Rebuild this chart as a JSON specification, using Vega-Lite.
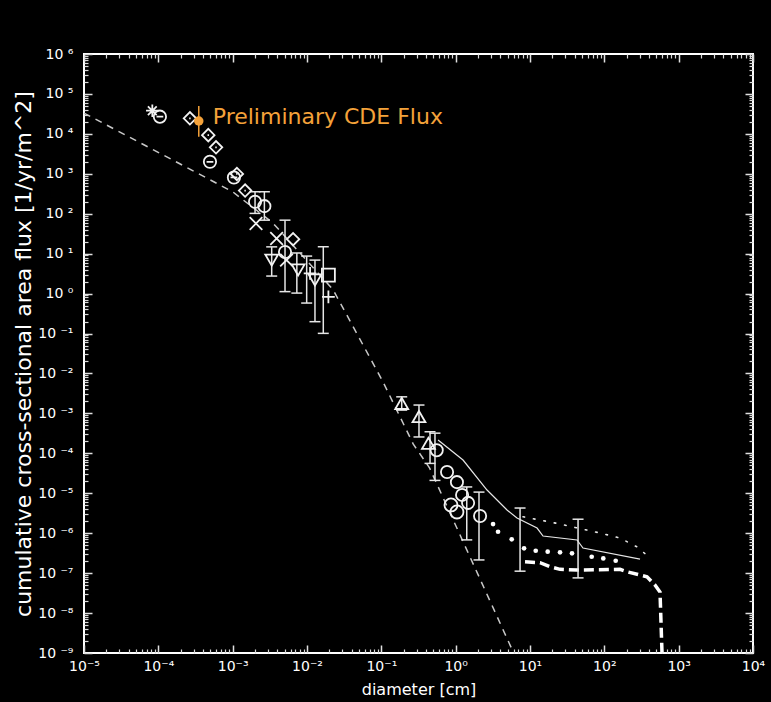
{
  "$schema": "https://vega.github.io/schema/vega-lite/v6.json",
  "width": 669,
  "height": 599,
  "autosize": "none",
  "padding": {"left": 84, "top": 54, "right": 18, "bottom": 49},
  "background": "#000000",
  "config": {"view": {"stroke": "#ffffff", "strokeWidth": 2}, "font": "DejaVu Sans"},
  "datasets": {
    "model": [
      {"x": 0.00001, "y": 33113}, {"x": 0.001, "y": 354.8}, {"x": 0.003467, "y": 58.88},
      {"x": 0.02239, "y": 1.259}, {"x": 0.1047, "y": 0.00631}, {"x": 0.2692, "y": 0.0001698},
      {"x": 0.4467, "y": 0.00004266}, {"x": 6.026, "y": 1e-9}
    ],
    "solid": [
      {"x": 0.5794, "y": 0.0002153}, {"x": 1.256, "y": 0.0000679}, {"x": 2.642, "y": 0.00001205},
      {"x": 4.909, "y": 3.8e-6}, {"x": 6.683, "y": 2.4e-6}, {"x": 12.45, "y": 1.346e-6},
      {"x": 14.96, "y": 8.49e-7}, {"x": 42.95, "y": 6.75e-7}, {"x": 51.64, "y": 4.26e-7},
      {"x": 302, "y": 2.25e-7}
    ],
    "dotted": [
      {"x": 8.05, "y": 2.58e-6}, {"x": 22.9, "y": 1.766e-6}, {"x": 87.5, "y": 1.009e-6},
      {"x": 162.6, "y": 7.57e-7}, {"x": 272.9, "y": 4.58e-7}, {"x": 371.5, "y": 2.84e-7}
    ],
    "bigdots": [
      {"x": 3.184, "y": 1.694e-6}, {"x": 3.715, "y": 1.086e-6}, {"x": 5.675, "y": 7.02e-7},
      {"x": 8.318, "y": 4.18e-7}, {"x": 11.94, "y": 3.64e-7}, {"x": 17.3, "y": 3.44e-7},
      {"x": 25.35, "y": 3.32e-7}, {"x": 36.73, "y": 3.13e-7}, {"x": 67.61, "y": 2.57e-7},
      {"x": 96.8, "y": 2.34e-7}, {"x": 142.2, "y": 2.04e-7}
    ],
    "thick": [
      {"x": 8.57, "y": 1.928e-7}, {"x": 13.65, "y": 1.82e-7}, {"x": 18.58, "y": 1.445e-7},
      {"x": 25.35, "y": 1.245e-7}, {"x": 42.95, "y": 1.194e-7}, {"x": 162.6, "y": 1.245e-7},
      {"x": 201.8, "y": 1.084e-7}, {"x": 375, "y": 8.13e-8}, {"x": 480.8, "y": 5.03e-8},
      {"x": 561, "y": 3.37e-8}, {"x": 597, "y": 1e-9}
    ],
    "points": [
      {"x": 0.000083, "y": 38000, "s": "asterisk"},
      {"x": 0.000105, "y": 27000, "s": "circbar"},
      {"x": 0.000266, "y": 24500, "s": "diamonddot"},
      {"x": 0.00047, "y": 9300, "s": "diamonddot"},
      {"x": 0.000597, "y": 4600, "s": "diamonddot"},
      {"x": 0.000495, "y": 2000, "s": "circbar"},
      {"x": 0.00104, "y": 810, "s": "circbar"},
      {"x": 0.00114, "y": 990, "s": "diamonddot"},
      {"x": 0.00147, "y": 380, "s": "diamonddot"},
      {"x": 0.002, "y": 200, "s": "circle"},
      {"x": 0.00267, "y": 155, "s": "circle"},
      {"x": 0.00206, "y": 57, "s": "xbold"},
      {"x": 0.0039, "y": 24, "s": "xbold"},
      {"x": 0.0065, "y": 23, "s": "diamond"},
      {"x": 0.00506, "y": 11, "s": "circle"},
      {"x": 0.00335, "y": 6.9, "s": "tridown"},
      {"x": 0.0053, "y": 6.9, "s": "xbold"},
      {"x": 0.0076, "y": 3.9, "s": "tridown"},
      {"x": 0.011, "y": 3.2, "s": "plus"},
      {"x": 0.0128, "y": 2.2, "s": "tridown"},
      {"x": 0.0194, "y": 2.9, "s": "square"},
      {"x": 0.0194, "y": 0.83, "s": "plusbold"},
      {"x": 0.188, "y": 0.00178, "s": "triup"},
      {"x": 0.321, "y": 0.00083, "s": "triup"},
      {"x": 0.43, "y": 0.000178, "s": "triup"},
      {"x": 0.556, "y": 0.00012, "s": "circle"},
      {"x": 0.766, "y": 0.000034, "s": "circle"},
      {"x": 1.04, "y": 0.000019, "s": "circle"},
      {"x": 1.22, "y": 9.1e-6, "s": "circle"},
      {"x": 1.47, "y": 5.75e-6, "s": "circle"},
      {"x": 2.13, "y": 2.7e-6, "s": "circle"},
      {"x": 0.865, "y": 5.1e-6, "s": "dot"},
      {"x": 1.04, "y": 3.4e-6, "s": "dot"}
    ],
    "errs": [
      {"x": 0.002, "lo": 102, "hi": 355},
      {"x": 0.00267, "lo": 69, "hi": 355},
      {"x": 0.00335, "lo": 2.75, "hi": 14.8},
      {"x": 0.00506, "lo": 1.12, "hi": 69},
      {"x": 0.0073, "lo": 1.03, "hi": 10.4},
      {"x": 0.0099, "lo": 0.58, "hi": 8.7},
      {"x": 0.0128, "lo": 0.198, "hi": 6.9},
      {"x": 0.01656, "lo": 0.101, "hi": 14.9},
      {"x": 0.188, "lo": 0.00121, "hi": 0.0026},
      {"x": 0.321, "lo": 0.000257, "hi": 0.00162},
      {"x": 0.452, "lo": 0.000056, "hi": 0.000347},
      {"x": 0.527, "lo": 0.000021, "hi": 0.00032},
      {"x": 1.41, "lo": 6.8e-7, "hi": 0.0000144},
      {"x": 2.06, "lo": 2.14e-7, "hi": 0.0000107},
      {"x": 7.35, "lo": 1.12e-7, "hi": 4.27e-6},
      {"x": 44.3, "lo": 7.6e-8, "hi": 2.24e-6}
    ],
    "cde": [
      {"x": 0.00035, "y": 21000, "lo": 8500, "hi": 50000, "label": "Preliminary CDE Flux"}
    ]
  },
  "resolve": {"axis": {"x": "independent", "y": "independent"}},
  "layer": [
    {
      "data": {"name": "model"},
      "mark": {"type": "line", "stroke": "#c8c8c8", "strokeWidth": 1.5, "strokeDash": [7, 6]},
      "encoding": {
        "x": {"field": "x", "type": "quantitative",
          "scale": {"type": "log", "domain": [0.00001, 10000], "nice": false},
          "axis": {"orient": "bottom",
            "values": [0.00001,0.0001,0.001,0.01,0.1,1,10,100,1000,10000],
            "labelExpr": "'10' + (round(log(datum.value)/LN10) < 0 ? '⁻' : '') + substring('⁰¹²³⁴⁵⁶⁷⁸⁹', abs(round(log(datum.value)/LN10)), abs(round(log(datum.value)/LN10)) + 1)",
            "tickSize": -8, "tickColor": "#e0e0e0", "tickWidth": 1.5, "domain": false, "grid": false,
            "labelColor": "#ffffff", "labelFont": "DejaVu Sans", "labelFontSize": 14, "labelPadding": 14,
            "labelOverlap": false, "labelFlush": false, "labelBound": false,
            "title": "diameter [cm]", "titleColor": "#ffffff", "titleFont": "DejaVu Sans", "titleFontSize": 16,
            "titleFontWeight": "normal", "titlePadding": 8}},
        "y": {"field": "y", "type": "quantitative",
          "scale": {"type": "log", "domain": [1e-9, 1000000], "nice": false},
          "axis": {"orient": "left",
            "values": [1e-9,1e-8,1e-7,1e-6,1e-5,1e-4,0.001,0.01,0.1,1,10,100,1000,10000,100000,1000000],
            "labelExpr": "'10 ' + (round(log(datum.value)/LN10) < 0 ? '⁻' : '') + substring('⁰¹²³⁴⁵⁶⁷⁸⁹', abs(round(log(datum.value)/LN10)), abs(round(log(datum.value)/LN10)) + 1)",
            "tickSize": -8, "tickColor": "#e0e0e0", "tickWidth": 1.5, "domain": false, "grid": false,
            "labelColor": "#ffffff", "labelFont": "DejaVu Sans", "labelFontSize": 14, "labelPadding": 19,
            "labelOverlap": false, "labelFlush": false, "labelBound": false,
            "title": "cumulative cross-sectional area flux [1/yr/m^2]", "titleColor": "#ffffff", "titleFont": "DejaVu Sans",
            "titleFontSize": 22, "titleFontWeight": "normal", "titlePadding": 2}}
      }
    },
    {
      "data": {"name": "solid"},
      "mark": {"type": "line", "stroke": "#e6e6e6", "strokeWidth": 1.2},
      "encoding": {
        "x": {"field": "x", "type": "quantitative",
          "scale": {"type": "log", "domain": [0.00001, 10000], "nice": false},
          "axis": {"orient": "top",
            "values": [0.00001,0.0001,0.001,0.01,0.1,1,10,100,1000,10000],
            "labels": false, "title": null, "domain": false, "grid": false,
            "tickSize": -8, "tickColor": "#e0e0e0", "tickWidth": 1.5}},
        "y": {"field": "y", "type": "quantitative",
          "scale": {"type": "log", "domain": [1e-9, 1000000], "nice": false},
          "axis": {"orient": "right",
            "values": [1e-9,1e-8,1e-7,1e-6,1e-5,1e-4,0.001,0.01,0.1,1,10,100,1000,10000,100000,1000000],
            "labels": false, "title": null, "domain": false, "grid": false,
            "tickSize": -8, "tickColor": "#e0e0e0", "tickWidth": 1.5}}
      }
    },
    {
      "data": {"name": "dotted"},
      "mark": {"type": "line", "stroke": "#e6e6e6", "strokeWidth": 1.6, "strokeDash": [1.6, 9], "strokeCap": "round"},
      "encoding": {
        "x": {"field": "x", "type": "quantitative",
          "scale": {"type": "log", "domain": [0.00001, 10000], "nice": false},
          "axis": {"orient": "bottom",
            "values": [0.00002,0.00003,0.00004,0.00005,0.00006,0.00007,0.00008,0.00009,0.0002,0.0003,0.0004,0.0005,0.0006,0.0007,0.0008,0.0009,0.002,0.003,0.004,0.005,0.006,0.007,0.008,0.009,0.02,0.03,0.04,0.05,0.06,0.07,0.08,0.09,0.2,0.3,0.4,0.5,0.6,0.7,0.8,0.9,2,3,4,5,6,7,8,9,20,30,40,50,60,70,80,90,200,300,400,500,600,700,800,900,2000,3000,4000,5000,6000,7000,8000,9000],
            "labels": false, "title": null, "domain": false, "grid": false,
            "tickSize": -4, "tickColor": "#d8d8d8", "tickWidth": 1.2}},
        "y": {"field": "y", "type": "quantitative",
          "scale": {"type": "log", "domain": [1e-9, 1000000], "nice": false},
          "axis": {"orient": "left",
            "values": [2e-9,3e-9,4e-9,5e-9,6e-9,7e-9,8e-9,9e-9,2e-8,3e-8,4e-8,5e-8,6e-8,7e-8,8e-8,9e-8,2e-7,3e-7,4e-7,5e-7,6e-7,7e-7,8e-7,9e-7,2e-6,3e-6,4e-6,5e-6,6e-6,7e-6,8e-6,9e-6,2e-5,3e-5,4e-5,5e-5,6e-5,7e-5,8e-5,9e-5,2e-4,3e-4,4e-4,5e-4,6e-4,7e-4,8e-4,9e-4,0.002,0.003,0.004,0.005,0.006,0.007,0.008,0.009,0.02,0.03,0.04,0.05,0.06,0.07,0.08,0.09,0.2,0.3,0.4,0.5,0.6,0.7,0.8,0.9,2,3,4,5,6,7,8,9,20,30,40,50,60,70,80,90,200,300,400,500,600,700,800,900,2000,3000,4000,5000,6000,7000,8000,9000,20000,30000,40000,50000,60000,70000,80000,90000,200000,300000,400000,500000,600000,700000,800000,900000],
            "labels": false, "title": null, "domain": false, "grid": false,
            "tickSize": -4, "tickColor": "#d8d8d8", "tickWidth": 1.2}}
      }
    },
    {
      "data": {"name": "thick"},
      "mark": {"type": "line", "stroke": "#ffffff", "strokeWidth": 3.5, "strokeDash": [10, 5]},
      "encoding": {
        "x": {"field": "x", "type": "quantitative",
          "scale": {"type": "log", "domain": [0.00001, 10000], "nice": false},
          "axis": {"orient": "top",
            "values": [0.00002,0.00003,0.00004,0.00005,0.00006,0.00007,0.00008,0.00009,0.0002,0.0003,0.0004,0.0005,0.0006,0.0007,0.0008,0.0009,0.002,0.003,0.004,0.005,0.006,0.007,0.008,0.009,0.02,0.03,0.04,0.05,0.06,0.07,0.08,0.09,0.2,0.3,0.4,0.5,0.6,0.7,0.8,0.9,2,3,4,5,6,7,8,9,20,30,40,50,60,70,80,90,200,300,400,500,600,700,800,900,2000,3000,4000,5000,6000,7000,8000,9000],
            "labels": false, "title": null, "domain": false, "grid": false,
            "tickSize": -4, "tickColor": "#d8d8d8", "tickWidth": 1.2}},
        "y": {"field": "y", "type": "quantitative",
          "scale": {"type": "log", "domain": [1e-9, 1000000], "nice": false},
          "axis": {"orient": "right",
            "values": [2e-9,3e-9,4e-9,5e-9,6e-9,7e-9,8e-9,9e-9,2e-8,3e-8,4e-8,5e-8,6e-8,7e-8,8e-8,9e-8,2e-7,3e-7,4e-7,5e-7,6e-7,7e-7,8e-7,9e-7,2e-6,3e-6,4e-6,5e-6,6e-6,7e-6,8e-6,9e-6,2e-5,3e-5,4e-5,5e-5,6e-5,7e-5,8e-5,9e-5,2e-4,3e-4,4e-4,5e-4,6e-4,7e-4,8e-4,9e-4,0.002,0.003,0.004,0.005,0.006,0.007,0.008,0.009,0.02,0.03,0.04,0.05,0.06,0.07,0.08,0.09,0.2,0.3,0.4,0.5,0.6,0.7,0.8,0.9,2,3,4,5,6,7,8,9,20,30,40,50,60,70,80,90,200,300,400,500,600,700,800,900,2000,3000,4000,5000,6000,7000,8000,9000,20000,30000,40000,50000,60000,70000,80000,90000,200000,300000,400000,500000,600000,700000,800000,900000],
            "labels": false, "title": null, "domain": false, "grid": false,
            "tickSize": -4, "tickColor": "#d8d8d8", "tickWidth": 1.2}}
      }
    },
    {
      "data": {"name": "bigdots"},
      "mark": {"type": "point", "filled": true, "color": "#ffffff", "opacity": 1, "size": 22},
      "encoding": {
        "x": {"field": "x", "type": "quantitative", "scale": {"type": "log", "domain": [0.00001, 10000], "nice": false}, "axis": null},
        "y": {"field": "y", "type": "quantitative", "scale": {"type": "log", "domain": [1e-9, 1000000], "nice": false}, "axis": null}
      }
    },
    {
      "data": {"name": "errs"},
      "mark": {"type": "rule", "color": "#e6e6e6", "strokeWidth": 1.5},
      "encoding": {
        "x": {"field": "x", "type": "quantitative", "scale": {"type": "log", "domain": [0.00001, 10000], "nice": false}, "axis": null},
        "y": {"field": "lo", "type": "quantitative", "scale": {"type": "log", "domain": [1e-9, 1000000], "nice": false}, "axis": null},
        "y2": {"field": "hi"}
      }
    },
    {
      "data": {"name": "errs"},
      "mark": {"type": "point", "shape": "stroke", "filled": false, "color": "#e6e6e6", "strokeWidth": 1.5, "size": 121, "opacity": 1},
      "encoding": {
        "x": {"field": "x", "type": "quantitative", "scale": {"type": "log", "domain": [0.00001, 10000], "nice": false}, "axis": null},
        "y": {"field": "lo", "type": "quantitative", "scale": {"type": "log", "domain": [1e-9, 1000000], "nice": false}, "axis": null}
      }
    },
    {
      "data": {"name": "errs"},
      "mark": {"type": "point", "shape": "stroke", "filled": false, "color": "#e6e6e6", "strokeWidth": 1.5, "size": 121, "opacity": 1},
      "encoding": {
        "x": {"field": "x", "type": "quantitative", "scale": {"type": "log", "domain": [0.00001, 10000], "nice": false}, "axis": null},
        "y": {"field": "hi", "type": "quantitative", "scale": {"type": "log", "domain": [1e-9, 1000000], "nice": false}, "axis": null}
      }
    },
    {
      "data": {"name": "points"},
      "mark": {"type": "point", "filled": false, "color": "#f2f2f2", "opacity": 1},
      "encoding": {
        "x": {"field": "x", "type": "quantitative", "scale": {"type": "log", "domain": [0.00001, 10000], "nice": false}, "axis": null},
        "y": {"field": "y", "type": "quantitative", "scale": {"type": "log", "domain": [1e-9, 1000000], "nice": false}, "axis": null},
        "shape": {"field": "s", "type": "nominal", "legend": null,
          "scale": {"domain": ["circle", "circbar", "diamond", "diamonddot", "asterisk", "xbold", "plus", "plusbold", "tridown", "triup", "square", "dot"],
            "range": ["circle", "M-1,0A1,1,0,1,1,1,0A1,1,0,1,1,-1,0ZM-0.55,0L0.55,0", "diamond", "M-1,0L0,-1L1,0L0,1ZM-0.12,0L0.12,0", "M-1,0L1,0M0,-1L0,1M-0.7,-0.7L0.7,0.7M-0.7,0.7L0.7,-0.7", "M-1,-1L1,1M-1,1L1,-1", "M-1,0L1,0M0,-1L0,1", "M-1,0L1,0M0,-1L0,1", "triangle-down", "triangle-up", "square", "circle"]}},
        "size": {"field": "s", "type": "nominal", "legend": null,
          "scale": {"domain": ["circle", "circbar", "diamond", "diamonddot", "asterisk", "xbold", "plus", "plusbold", "tridown", "triup", "square", "dot"],
            "range": [150, 170, 140, 130, 160, 160, 150, 150, 160, 140, 150, 10]}},
        "strokeWidth": {"field": "s", "type": "nominal", "legend": null,
          "scale": {"domain": ["circle", "circbar", "diamond", "diamonddot", "asterisk", "xbold", "plus", "plusbold", "tridown", "triup", "square", "dot"],
            "range": [1.8, 1.8, 1.8, 1.8, 1.8, 3.8, 1.8, 3.8, 1.8, 1.8, 1.8, 3]}}
      }
    },
    {
      "data": {"name": "cde"},
      "mark": {"type": "rule", "color": "#f4a23a", "strokeWidth": 1.5},
      "encoding": {
        "x": {"field": "x", "type": "quantitative", "scale": {"type": "log", "domain": [0.00001, 10000], "nice": false}, "axis": null},
        "y": {"field": "lo", "type": "quantitative", "scale": {"type": "log", "domain": [1e-9, 1000000], "nice": false}, "axis": null},
        "y2": {"field": "hi"}
      }
    },
    {
      "data": {"name": "cde"},
      "mark": {"type": "point", "filled": true, "color": "#f4a23a", "opacity": 1, "size": 90},
      "encoding": {
        "x": {"field": "x", "type": "quantitative", "scale": {"type": "log", "domain": [0.00001, 10000], "nice": false}, "axis": null},
        "y": {"field": "y", "type": "quantitative", "scale": {"type": "log", "domain": [1e-9, 1000000], "nice": false}, "axis": null}
      }
    },
    {
      "data": {"name": "cde"},
      "mark": {"type": "text", "color": "#f4a23a", "align": "left", "baseline": "middle", "dx": 14, "dy": -4, "font": "DejaVu Sans", "fontSize": 22},
      "encoding": {
        "x": {"field": "x", "type": "quantitative", "scale": {"type": "log", "domain": [0.00001, 10000], "nice": false}, "axis": null},
        "y": {"field": "y", "type": "quantitative", "scale": {"type": "log", "domain": [1e-9, 1000000], "nice": false}, "axis": null},
        "text": {"field": "label"}
      }
    }
  ]
}
